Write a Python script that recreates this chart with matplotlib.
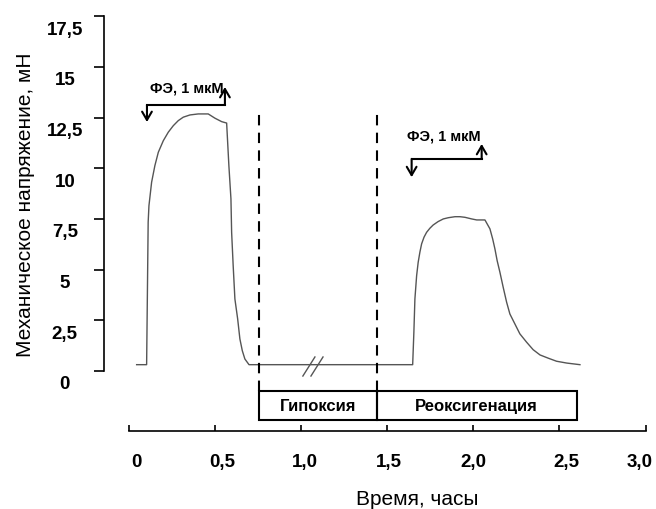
import matplotlib.pyplot as plt
from matplotlib.patches import Rectangle
from matplotlib.transforms import ScaledTranslation

plt.rcParams['font.family'] = ['Liberation Sans', 'DejaVu Sans']

# tension trace: time in hours, tension in mN
time_h = [0.043, 0.101, 0.110, 0.1145, 0.130, 0.149, 0.169, 0.198, 0.227, 0.256, 0.285,
          0.314, 0.353, 0.401, 0.459, 0.498, 0.537, 0.566,
          0.579, 0.591, 0.595, 0.604, 0.614, 0.630, 0.643, 0.657, 0.672, 0.696,
          1.647, 1.654, 1.660, 1.670, 1.679, 1.689, 1.699, 1.713, 1.728, 1.747, 1.766,
          1.795, 1.825, 1.854, 1.893, 1.922, 1.951, 1.990, 2.019, 2.067,
          2.096, 2.112, 2.125, 2.138, 2.154, 2.173, 2.193, 2.212, 2.241, 2.270,
          2.309, 2.347, 2.387, 2.435, 2.483, 2.542, 2.619]
tension = [0.31, 0.31, 7.34, 8.15, 9.31, 10.13, 10.79, 11.36, 11.78, 12.10, 12.35,
           12.52, 12.63, 12.68, 12.68, 12.47, 12.30, 12.23,
           10.13, 8.49, 6.84, 5.19, 3.55, 2.57, 1.58, 1.00, 0.59, 0.31,
           0.31, 1.91, 3.55, 4.70, 5.36, 5.86, 6.27, 6.60, 6.84, 7.04, 7.20,
           7.37, 7.50, 7.56, 7.61, 7.61, 7.58, 7.50, 7.45, 7.45,
           7.01, 6.51, 6.02, 5.44, 4.87, 4.13, 3.39, 2.81, 2.32, 1.83,
           1.42, 1.05, 0.79, 0.63, 0.48, 0.39, 0.31]

# phases (hours)
phase_names = ['Гипоксия', 'Реоксигенация']
phase_start = [0.755, 1.438]
phase_end = [1.438, 2.600]

# phenylephrine applications: on, off (hours)
fe_on = [0.103, 1.641]
fe_off = [0.556, 2.048]
fe_label = 'ФЭ, 1 мкМ'

x_ticks = [0, 0.5, 1.0, 1.5, 2.0, 2.5, 3.0]
x_labels = ['0', '0,5', '1,0', '1,5', '2,0', '2,5', '3,0']
y_ticks = [0, 2.5, 5, 7.5, 10, 12.5, 15, 17.5]
y_labels = ['0', '2,5', '5', '7,5', '10', '12,5', '15', '17,5']

fig = plt.figure(figsize=(6.56, 5.10), dpi=100)
ax = fig.add_axes([0, 0, 1, 1])
ax.set_xlim(-0.751, 3.061)
ax.set_ylim(-6.81, 18.35)
ax.patch.set_visible(False)

ax.plot(time_h, tension, color='#555555', lw=1.0)

# break marks on the flat part
ax.plot([1.009, 1.079], [-0.25, 0.69], color='#555555', lw=1.0)
ax.plot([1.056, 1.126], [-0.25, 0.69], color='#555555', lw=1.0)

# dashed borders of hypoxia
ax.vlines(phase_start, -0.97, 12.7, colors='black', linestyles=(0, (5, 3.5)), lw=1.5)

# phase boxes
for name, a, b in zip(phase_names, phase_start, phase_end):
    ax.add_patch(Rectangle((a, -2.40), b - a, 1.43, fill=False, lw=1.5, ec='black'))
    ax.text((a + b) / 2, -1.72, name, ha='center', va='center', fontsize=12, fontweight='bold')

# FE application brackets
head = '->,head_length=0.6,head_width=0.35'
levels = [(13.12, 12.28, 14.01, 14.0), (10.46, 9.56, 11.20, 11.64)]
for on, off, (yh, ydn, yup, ytxt) in zip(fe_on, fe_off, levels):
    ax.plot([on, off], [yh, yh], color='black', lw=1.5)
    ax.annotate('', xy=(on, ydn), xytext=(on, yh),
                arrowprops=dict(arrowstyle=head, lw=1.5, color='black', shrinkA=0, shrinkB=0))
    ax.annotate('', xy=(off, yup), xytext=(off, yh),
                arrowprops=dict(arrowstyle=head, lw=1.5, color='black', shrinkA=0, shrinkB=0))
    ax.text(off - 0.005, ytxt, fe_label, ha='right', va='center', fontsize=10.5, fontweight='bold')

# axes
ax.spines['top'].set_visible(False)
ax.spines['right'].set_visible(False)
ax.spines['left'].set_position(('data', -0.147))
ax.spines['bottom'].set_position(('data', -2.945))
ax.spines['left'].set_bounds(0, 17.5)
ax.spines['bottom'].set_bounds(0, 3.0)
ax.spines['left'].set_linewidth(1.2)
ax.spines['bottom'].set_linewidth(1.2)

ax.set_xticks(x_ticks, x_labels)
ax.set_yticks(y_ticks, y_labels)
ax.tick_params(axis='y', direction='out', length=7.2, width=1.2, pad=21, labelsize=13.5)
ax.tick_params(axis='x', direction='in', length=4.5, width=1.2, pad=16, labelsize=13.5)

for lab in ax.get_yticklabels():
    lab.set_fontweight('bold')
    lab.set_ha('center')
    lab.set_transform(lab.get_transform() + ScaledTranslation(0, -0.11, fig.dpi_scale_trans))
# labels sit slightly right of the ticks, the last one pulled in to fit
x_shift = [0.07, 0.07, 0.04, 0.02, 0.0, 0.07, -0.06]
for lab, dx in zip(ax.get_xticklabels(), x_shift):
    lab.set_fontweight('bold')
    lab.set_transform(lab.get_transform() + ScaledTranslation(dx, 0, fig.dpi_scale_trans))

ax.set_ylabel('Механическое напряжение, мН', fontsize=15)
ax.yaxis.set_label_coords(26 / 656, 1 - 205 / 510)
ax.yaxis.label.set_va('center')
ax.set_xlabel('Время, часы', fontsize=15)
ax.xaxis.set_label_coords(417 / 656, 1 - 500 / 510)
ax.xaxis.label.set_va('center')

fig.savefig('out.png', dpi=100)
